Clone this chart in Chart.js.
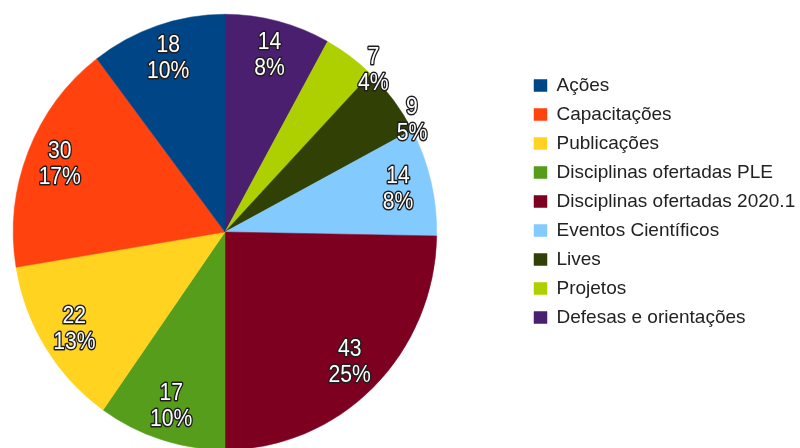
<!DOCTYPE html>
<html>
<head>
<meta charset="utf-8">
<title>Atividades</title>
<script src="https://cdn.jsdelivr.net/npm/chart.js@4.4.1/dist/chart.umd.min.js"></script>
<style>
  html, body { margin: 0; padding: 0; background: #fff; }
  #wrap { width: 800px; height: 448px; }
</style>
</head>
<body>
<div id="wrap"><canvas id="myChart" width="800" height="448"></canvas></div>
<script>
// data, in legend order (slices run counter-clockwise from 12 o'clock)
const categories = [
  'Ações',
  'Capacitações',
  'Publicações',
  'Disciplinas ofertadas PLE',
  'Disciplinas ofertadas 2020.1',
  'Eventos Científicos',
  'Lives',
  'Projetos',
  'Defesas e orientações'
];
const counts = [18, 30, 22, 17, 43, 14, 9, 7, 14];
const sliceColors = [
  '#004586', '#ff420e', '#ffd320', '#579d1c', '#7e0021',
  '#83caff', '#314004', '#aecf00', '#4b1f6f'
];

// chart.js draws clockwise, so feed it reversed and flip the legend back
const rev = arr => arr.slice().reverse();

// the original pie is a touch taller than wide
const SQUASH_Y = 218 / 212;

const stretchPie = {
  id: 'stretchPie',
  beforeDatasetsDraw(chart) {
    const ctx = chart.ctx;
    const a = chart.chartArea;
    const cx = (a.left + a.right) / 2, cy = (a.top + a.bottom) / 2;
    ctx.save();
    ctx.translate(cx, cy);
    ctx.scale(1, SQUASH_Y);
    ctx.translate(-cx, -cy);
  },
  afterDatasetsDraw(chart) {
    chart.ctx.restore();
  }
};

// value + percent labels with dark outline
const sliceLabels = {
  id: 'sliceLabels',
  afterDatasetsDraw(chart) {
    const ctx = chart.ctx;
    const meta = chart.getDatasetMeta(0);
    const data = chart.data.datasets[0].data;
    const total = data.reduce((a, b) => a + b, 0);
    ctx.save();
    ctx.font = '24px "Liberation Sans", Arial, sans-serif';
    ctx.textAlign = 'center';
    ctx.textBaseline = 'middle';
    ctx.lineJoin = 'round';
    ctx.lineWidth = 3;
    ctx.strokeStyle = '#1e1e1e';
    ctx.fillStyle = '#ffffff';
    meta.data.forEach((arc, i) => {
      const p = arc.getProps(['x', 'y', 'startAngle', 'endAngle', 'outerRadius'], true);
      const share = data[i] / total;
      let mid = (p.startAngle + p.endAngle) / 2;
      let r = p.outerRadius * 0.84;
      if (share < 0.06) { // small slices: label sits on the rim
        r = p.outerRadius * 1.02;
        mid += 0.125;
      }
      const x = p.x + Math.cos(mid) * r;
      const y = p.y + Math.sin(mid) * r * SQUASH_Y;
      const lines = [String(data[i]), Math.round(share * 100) + '%'];
      lines.forEach((t, k) => {
        ctx.save();
        ctx.translate(x, y + (k - 0.5) * 26);
        ctx.scale(0.88, 1); // narrow face
        ctx.strokeText(t, 0, 0);
        ctx.fillText(t, 0, 0);
        ctx.restore();
      });
    });
    ctx.restore();
  }
};

// fixed pie box and legend spot
const placeLegend = {
  id: 'placeLegend',
  afterLayout(chart) {
    const lg = chart.legend;
    const w = lg.width, h = lg.height;
    lg.left = 524; lg.right = 524 + w;
    lg.top = 66; lg.bottom = 66 + h;
    chart.chartArea = { left: 13, top: 20, right: 437, bottom: 444, width: 424, height: 424 };
  }
};

const config = {
  type: 'pie',
  data: {
    labels: rev(categories),
    datasets: [{
      data: rev(counts),
      backgroundColor: rev(sliceColors),
      borderColor: rev(sliceColors),
      borderWidth: 0.5
    }]
  },
  options: {
    responsive: false,
    animation: false,
    devicePixelRatio: 1,
    layout: { padding: 0 },
    plugins: {
      legend: {
        position: 'right',
        align: 'start',
        reverse: true,
        labels: {
          boxWidth: 13,
          boxHeight: 12,
          padding: 10,
          color: '#222222',
          font: { family: '"Liberation Sans", Arial, sans-serif', size: 19 }
        }
      },
      tooltip: { enabled: false }
    }
  },
  plugins: [placeLegend, stretchPie, sliceLabels]
};

new Chart(document.getElementById('myChart'), config);
</script>
</body>
</html>
